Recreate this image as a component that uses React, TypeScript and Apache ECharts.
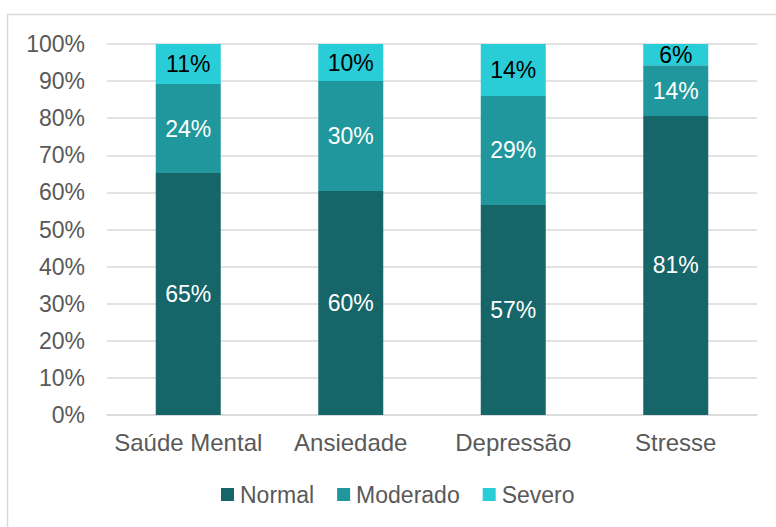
import React, { useEffect, useRef } from "react";
import * as echarts from "echarts";

const categories = ["Saúde Mental", "Ansiedade", "Depressão", "Stresse"];
const normal = [65.2, 60.4, 56.6, 80.6];
const moderado = [24.0, 29.6, 29.4, 13.7];
const severo = [10.8, 10.0, 14.0, 5.7];

const FONT = "'Liberation Sans', Arial, sans-serif";

export default function App() {
  const ref = useRef<HTMLDivElement>(null);
  useEffect(() => {
    const chart = echarts.init(ref.current!, null, { renderer: "svg" });
    const mk = (name: string, data: number[], color: string, labelColor: string) => ({
      name,
      type: "bar",
      stack: "total",
      barWidth: 65,
      data,
      itemStyle: { color },
      label: {
        show: true,
        position: "inside",
        color: labelColor,
        fontSize: 23,
        fontFamily: FONT,
        formatter: (p: any) => Math.round(p.value) + "%",
      },
    });
    chart.setOption({
      animation: false,
      backgroundColor: "#ffffff",
      graphic: [
        {
          type: "rect",
          shape: { x: 7.5, y: 14.5, width: 800, height: 600 },
          style: { fill: "none", stroke: "#d9d9d9", lineWidth: 1.5 },
          silent: true,
        },
      ],
      grid: { left: 107, right: 19, top: 44, bottom: 112 },
      legend: {
        left: 216,
        top: 478,
        itemWidth: 13,
        itemHeight: 13,
        itemGap: 23,
        icon: "rect",
        textStyle: { color: "#595959", fontSize: 23, fontFamily: FONT, padding: [0, 0, 0, 1] },
        data: ["Normal", "Moderado", "Severo"],
      },
      xAxis: {
        type: "category",
        data: categories,
        axisLine: { lineStyle: { color: "#d9d9d9", width: 1.5 } },
        axisTick: { show: false },
        axisLabel: { color: "#595959", fontSize: 24, fontFamily: FONT, margin: 15, interval: 0 },
      },
      yAxis: {
        type: "value",
        min: 0,
        max: 100,
        interval: 10,
        axisLine: { show: false },
        axisTick: { show: false },
        splitLine: { lineStyle: { color: "#d9d9d9", width: 1.5 } },
        axisLabel: {
          color: "#595959",
          fontSize: 23,
          fontFamily: FONT,
          margin: 22,
          formatter: "{value}%",
        },
      },
      series: [
        mk("Normal", normal, "#156569", "#ffffff"),
        mk("Moderado", moderado, "#1f979d", "#ffffff"),
        mk("Severo", severo, "#29cdd8", "#000000"),
      ],
    });
    return () => chart.dispose();
  }, []);
  return (
    <div
      ref={ref}
      style={{ position: "fixed", left: 0, top: 0, width: 776, height: 527 }}
    />
  );
}
